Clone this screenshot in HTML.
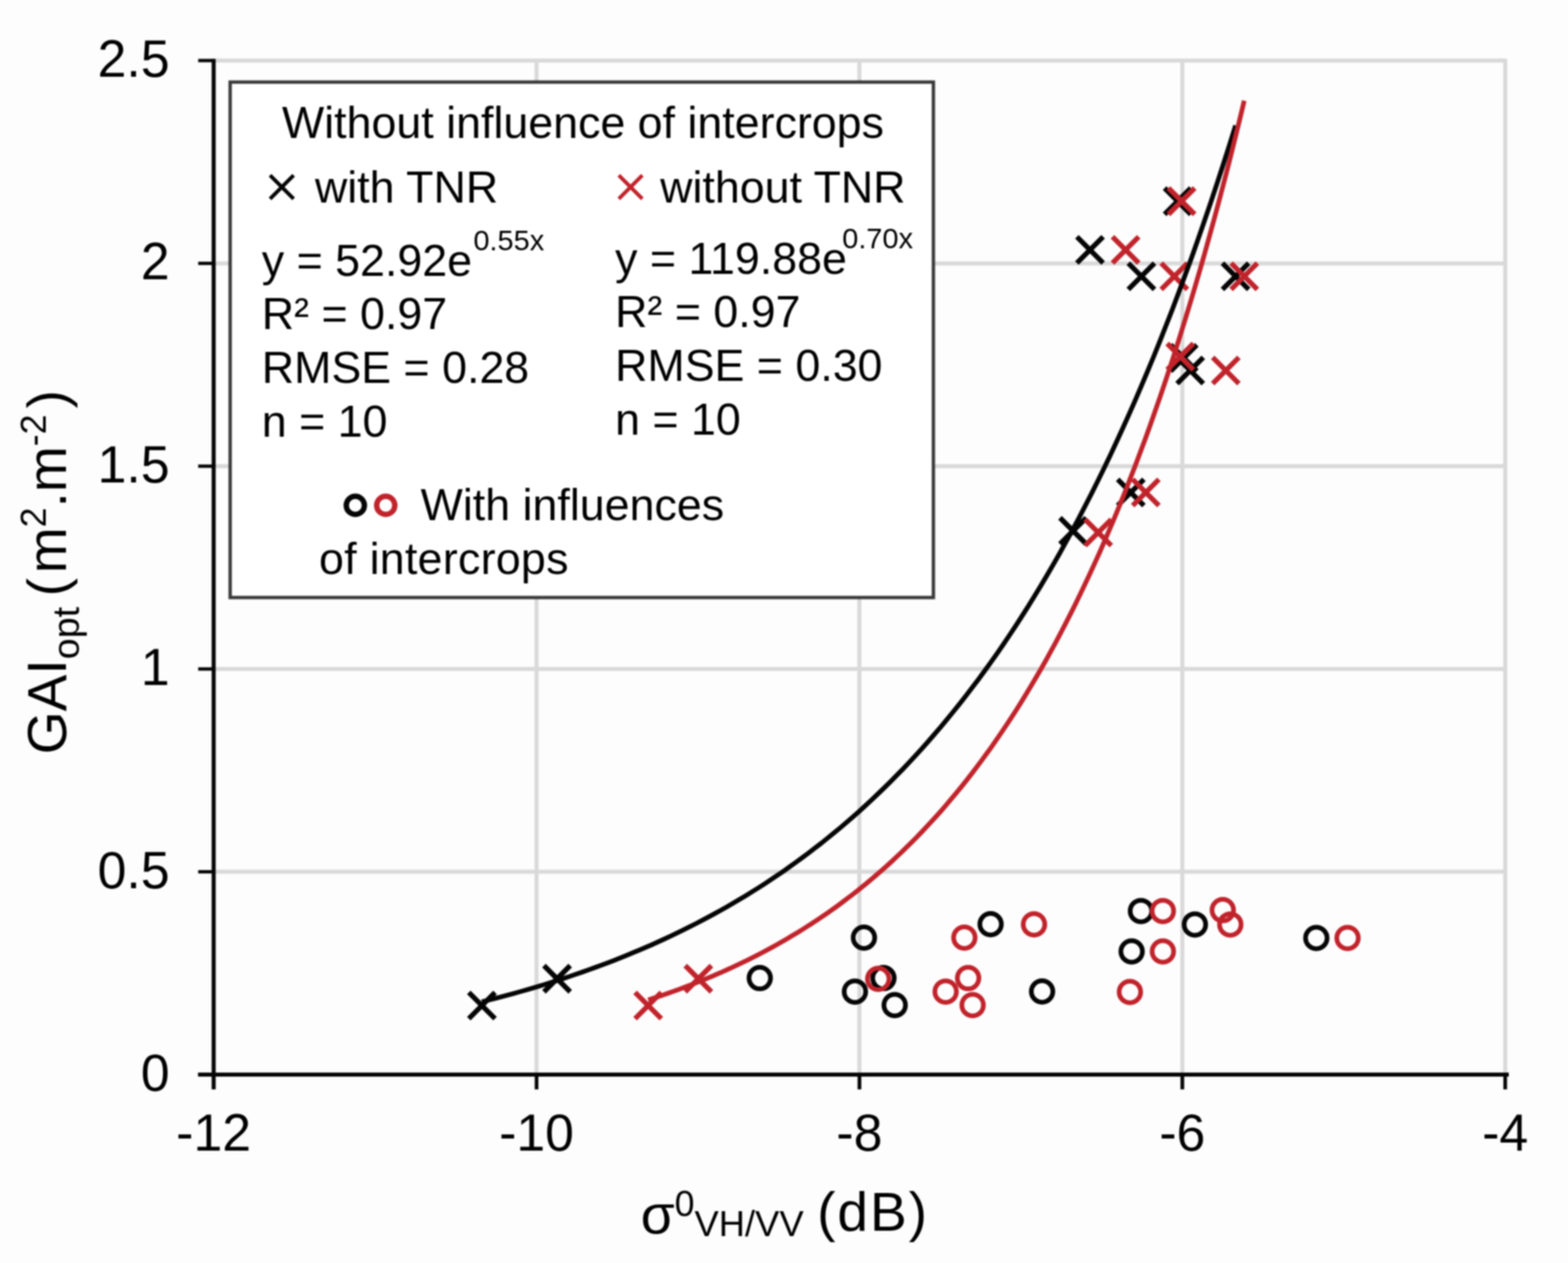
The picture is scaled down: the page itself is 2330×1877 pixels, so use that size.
<!DOCTYPE html>
<html><head><meta charset="utf-8"><title>GAI vs sigma0</title>
<style>html,body{margin:0;padding:0;background:#fdfdfd;} svg{display:block;filter:blur(1px);}</style>
</head><body>
<svg width="2330" height="1877" viewBox="0 0 2330 1877" font-family="'Liberation Sans', Arial, Helvetica, sans-serif" fill="#000">
<line x1="797.3" y1="90.0" x2="797.3" y2="1597.0" stroke="#d9d9d9" stroke-width="6"/>
<line x1="1277.1" y1="90.0" x2="1277.1" y2="1597.0" stroke="#d9d9d9" stroke-width="6"/>
<line x1="1756.9" y1="90.0" x2="1756.9" y2="1597.0" stroke="#d9d9d9" stroke-width="6"/>
<line x1="2236.7" y1="90.0" x2="2236.7" y2="1597.0" stroke="#d9d9d9" stroke-width="6"/>
<line x1="317.5" y1="1295.6" x2="2239.2" y2="1295.6" stroke="#d9d9d9" stroke-width="6"/>
<line x1="317.5" y1="994.2" x2="2239.2" y2="994.2" stroke="#d9d9d9" stroke-width="6"/>
<line x1="317.5" y1="692.8" x2="2239.2" y2="692.8" stroke="#d9d9d9" stroke-width="6"/>
<line x1="317.5" y1="391.4" x2="2239.2" y2="391.4" stroke="#d9d9d9" stroke-width="6"/>
<line x1="317.5" y1="90.0" x2="2239.2" y2="90.0" stroke="#d9d9d9" stroke-width="6"/>
<line x1="317.5" y1="87.5" x2="317.5" y2="1619" stroke="#050505" stroke-width="6"/>
<line x1="294.5" y1="1597.0" x2="2242" y2="1597.0" stroke="#050505" stroke-width="6"/>
<line x1="294.5" y1="1597.0" x2="317.5" y2="1597.0" stroke="#050505" stroke-width="5"/>
<line x1="294.5" y1="1295.6" x2="317.5" y2="1295.6" stroke="#050505" stroke-width="5"/>
<line x1="294.5" y1="994.2" x2="317.5" y2="994.2" stroke="#050505" stroke-width="5"/>
<line x1="294.5" y1="692.8" x2="317.5" y2="692.8" stroke="#050505" stroke-width="5"/>
<line x1="294.5" y1="391.4" x2="317.5" y2="391.4" stroke="#050505" stroke-width="5"/>
<line x1="294.5" y1="90.0" x2="317.5" y2="90.0" stroke="#050505" stroke-width="5"/>
<line x1="797.3" y1="1597.0" x2="797.3" y2="1619" stroke="#050505" stroke-width="5.5"/>
<line x1="1277.1" y1="1597.0" x2="1277.1" y2="1619" stroke="#050505" stroke-width="5.5"/>
<line x1="1756.9" y1="1597.0" x2="1756.9" y2="1619" stroke="#050505" stroke-width="5.5"/>
<line x1="2236.7" y1="1597.0" x2="2236.7" y2="1619" stroke="#050505" stroke-width="5.5"/>
<text x="252" y="1621.0" text-anchor="end" font-size="77">0</text>
<text x="252" y="1319.6" text-anchor="end" font-size="77">0.5</text>
<text x="252" y="1018.2" text-anchor="end" font-size="77">1</text>
<text x="252" y="716.8" text-anchor="end" font-size="77">1.5</text>
<text x="252" y="415.4" text-anchor="end" font-size="77">2</text>
<text x="252" y="114.0" text-anchor="end" font-size="77">2.5</text>
<text x="317.5" y="1709.5" text-anchor="middle" font-size="77">-12</text>
<text x="797.3" y="1709.5" text-anchor="middle" font-size="77">-10</text>
<text x="1277.1" y="1709.5" text-anchor="middle" font-size="77">-8</text>
<text x="1756.9" y="1709.5" text-anchor="middle" font-size="77">-6</text>
<text x="2236.7" y="1709.5" text-anchor="middle" font-size="77">-4</text>
<text x="952" y="1833" font-size="82">σ<tspan font-size="53" dy="-26">0</tspan><tspan font-size="54" dy="30">VH/VV </tspan><tspan dx="5" dy="-8.5" letter-spacing="2.8">(dB)</tspan></text>
<text transform="translate(97.5,1121) rotate(-90)" font-size="82">GAI<tspan font-size="56" dy="19">opt </tspan><tspan dy="-19">(</tspan><tspan dx="7">m</tspan><tspan font-size="53" dy="-30">2</tspan><tspan dy="30">.m</tspan><tspan font-size="53" dy="-30">-2</tspan><tspan dx="9" dy="30">)</tspan></text>
<circle cx="1129.0" cy="1453.6" r="16" stroke="#050505" stroke-width="7" fill="none"/>
<circle cx="1283.8" cy="1393.5" r="16" stroke="#050505" stroke-width="7" fill="none"/>
<circle cx="1270.4" cy="1473.7" r="16" stroke="#050505" stroke-width="7" fill="none"/>
<circle cx="1312.8" cy="1453.6" r="16" stroke="#050505" stroke-width="7" fill="none"/>
<circle cx="1329.5" cy="1493.7" r="16" stroke="#050505" stroke-width="7" fill="none"/>
<circle cx="1472.0" cy="1373.5" r="16" stroke="#050505" stroke-width="7" fill="none"/>
<circle cx="1548.5" cy="1473.5" r="16" stroke="#050505" stroke-width="7" fill="none"/>
<circle cx="1695.4" cy="1353.9" r="16" stroke="#050505" stroke-width="7" fill="none"/>
<circle cx="1681.6" cy="1414.0" r="16" stroke="#050505" stroke-width="7" fill="none"/>
<circle cx="1775.6" cy="1373.9" r="16" stroke="#050505" stroke-width="7" fill="none"/>
<circle cx="1956.0" cy="1394.0" r="16" stroke="#050505" stroke-width="7" fill="none"/>
<circle cx="1305.0" cy="1454.8" r="16" stroke="#c1232b" stroke-width="7" fill="none"/>
<circle cx="1433.0" cy="1393.5" r="16" stroke="#c1232b" stroke-width="7" fill="none"/>
<circle cx="1536.5" cy="1373.7" r="16" stroke="#c1232b" stroke-width="7" fill="none"/>
<circle cx="1438.6" cy="1453.6" r="16" stroke="#c1232b" stroke-width="7" fill="none"/>
<circle cx="1405.2" cy="1473.7" r="16" stroke="#c1232b" stroke-width="7" fill="none"/>
<circle cx="1445.3" cy="1493.7" r="16" stroke="#c1232b" stroke-width="7" fill="none"/>
<circle cx="1728.0" cy="1353.9" r="16" stroke="#c1232b" stroke-width="7" fill="none"/>
<circle cx="1728.0" cy="1414.0" r="16" stroke="#c1232b" stroke-width="7" fill="none"/>
<circle cx="1679.0" cy="1474.2" r="16" stroke="#c1232b" stroke-width="7" fill="none"/>
<circle cx="1817.0" cy="1352.6" r="16" stroke="#c1232b" stroke-width="7" fill="none"/>
<circle cx="1828.2" cy="1373.9" r="16" stroke="#c1232b" stroke-width="7" fill="none"/>
<circle cx="2002.4" cy="1394.0" r="16" stroke="#c1232b" stroke-width="7" fill="none"/>
<path d="M696.6,1474.8L735.6,1513.8M696.6,1513.8L735.6,1474.8" stroke="#050505" stroke-width="7.5" fill="none"/>
<path d="M808.3,1435.0L847.3,1474.0M808.3,1474.0L847.3,1435.0" stroke="#050505" stroke-width="7.5" fill="none"/>
<path d="M1575.1,769.5L1614.1,808.5M1575.1,808.5L1614.1,769.5" stroke="#050505" stroke-width="7.5" fill="none"/>
<path d="M1660.8,712.3L1699.8,751.3M1660.8,751.3L1699.8,712.3" stroke="#050505" stroke-width="7.5" fill="none"/>
<path d="M1600.2,351.9L1639.2,390.9M1600.2,390.9L1639.2,351.9" stroke="#050505" stroke-width="7.5" fill="none"/>
<path d="M1730.5,279.5L1769.5,318.5M1730.5,318.5L1769.5,279.5" stroke="#050505" stroke-width="7.5" fill="none"/>
<path d="M1676.6,391.1L1715.6,430.1M1676.6,430.1L1715.6,391.1" stroke="#050505" stroke-width="7.5" fill="none"/>
<path d="M1816.5,391.1L1855.5,430.1M1816.5,430.1L1855.5,391.1" stroke="#050505" stroke-width="7.5" fill="none"/>
<path d="M1749.1,531.1L1788.1,570.1M1749.1,570.1L1788.1,531.1" stroke="#050505" stroke-width="7.5" fill="none"/>
<path d="M1739.5,512.5L1778.5,551.5M1739.5,551.5L1778.5,512.5" stroke="#050505" stroke-width="7.5" fill="none"/>
<path d="M943.7,1474.8L982.7,1513.8M943.7,1513.8L982.7,1474.8" stroke="#c1232b" stroke-width="7.5" fill="none"/>
<path d="M1018.2,1435.0L1057.2,1474.0M1018.2,1474.0L1057.2,1435.0" stroke="#c1232b" stroke-width="7.5" fill="none"/>
<path d="M1612.4,771.9L1651.4,810.9M1612.4,810.9L1651.4,771.9" stroke="#c1232b" stroke-width="7.5" fill="none"/>
<path d="M1683.1,712.3L1722.1,751.3M1683.1,751.3L1722.1,712.3" stroke="#c1232b" stroke-width="7.5" fill="none"/>
<path d="M1653.1,351.9L1692.1,390.9M1653.1,390.9L1692.1,351.9" stroke="#c1232b" stroke-width="7.5" fill="none"/>
<path d="M1736.3,279.5L1775.3,318.5M1736.3,318.5L1775.3,279.5" stroke="#c1232b" stroke-width="7.5" fill="none"/>
<path d="M1725.5,391.1L1764.5,430.1M1725.5,430.1L1764.5,391.1" stroke="#c1232b" stroke-width="7.5" fill="none"/>
<path d="M1829.4,391.1L1868.4,430.1M1829.4,430.1L1868.4,391.1" stroke="#c1232b" stroke-width="7.5" fill="none"/>
<path d="M1734.4,510.5L1773.4,549.5M1734.4,549.5L1773.4,510.5" stroke="#c1232b" stroke-width="7.5" fill="none"/>
<path d="M1802.0,531.1L1841.0,570.1M1802.0,570.1L1841.0,531.1" stroke="#c1232b" stroke-width="7.5" fill="none"/>
<polyline points="716.1,1488.8 725.4,1486.4 734.8,1484.0 744.1,1481.6 753.4,1479.1 762.8,1476.6 772.1,1474.0 781.4,1471.3 790.8,1468.6 800.1,1465.8 809.4,1463.0 818.8,1460.1 828.1,1457.1 837.4,1454.1 846.8,1451.0 856.1,1447.8 865.4,1444.6 874.8,1441.3 884.1,1437.9 893.4,1434.5 902.8,1431.0 912.1,1427.4 921.4,1423.7 930.7,1420.0 940.1,1416.1 949.4,1412.2 958.7,1408.2 968.1,1404.2 977.4,1400.0 986.7,1395.7 996.1,1391.4 1005.4,1386.9 1014.7,1382.4 1024.1,1377.7 1033.4,1373.0 1042.7,1368.2 1052.1,1363.2 1061.4,1358.1 1070.7,1353.0 1080.1,1347.7 1089.4,1342.3 1098.7,1336.8 1108.1,1331.2 1117.4,1325.4 1126.7,1319.6 1136.1,1313.6 1145.4,1307.4 1154.7,1301.2 1164.1,1294.8 1173.4,1288.2 1182.7,1281.5 1192.1,1274.7 1201.4,1267.8 1210.7,1260.6 1220.1,1253.4 1229.4,1245.9 1238.7,1238.3 1248.1,1230.6 1257.4,1222.7 1266.7,1214.6 1276.1,1206.3 1285.4,1197.8 1294.7,1189.2 1304.0,1180.4 1313.4,1171.4 1322.7,1162.2 1332.0,1152.8 1341.4,1143.2 1350.7,1133.4 1360.0,1123.3 1369.4,1113.1 1378.7,1102.6 1388.0,1091.9 1397.4,1081.0 1406.7,1069.8 1416.0,1058.4 1425.4,1046.8 1434.7,1034.9 1444.0,1022.7 1453.4,1010.3 1462.7,997.6 1472.0,984.7 1481.4,971.4 1490.7,957.9 1500.0,944.1 1509.4,930.0 1518.7,915.5 1528.0,900.8 1537.4,885.7 1546.7,870.4 1556.0,854.6 1565.4,838.6 1574.7,822.2 1584.0,805.4 1593.4,788.3 1602.7,770.8 1612.0,752.9 1621.4,734.7 1630.7,716.0 1640.0,697.0 1649.4,677.5 1658.7,657.6 1668.0,637.3 1677.3,616.6 1686.7,595.4 1696.0,573.7 1705.3,551.6 1714.7,529.0 1724.0,505.9 1733.3,482.3 1742.7,458.2 1752.0,433.5 1761.3,408.4 1770.7,382.7 1780.0,356.4 1789.3,329.6 1798.7,302.2 1808.0,274.2 1817.3,245.6 1826.7,216.3 1836.0,186.5" stroke="#050505" stroke-width="7" fill="none" stroke-linejoin="round"/>
<polyline points="963.2,1486.1 970.6,1483.7 978.0,1481.2 985.3,1478.7 992.7,1476.1 1000.1,1473.5 1007.5,1470.9 1014.9,1468.1 1022.2,1465.3 1029.6,1462.5 1037.0,1459.6 1044.4,1456.6 1051.8,1453.6 1059.2,1450.5 1066.5,1447.3 1073.9,1444.1 1081.3,1440.7 1088.7,1437.4 1096.1,1433.9 1103.4,1430.4 1110.8,1426.8 1118.2,1423.1 1125.6,1419.3 1133.0,1415.5 1140.3,1411.6 1147.7,1407.6 1155.1,1403.5 1162.5,1399.3 1169.9,1395.0 1177.2,1390.6 1184.6,1386.2 1192.0,1381.6 1199.4,1376.9 1206.8,1372.2 1214.1,1367.3 1221.5,1362.3 1228.9,1357.3 1236.3,1352.1 1243.7,1346.8 1251.1,1341.4 1258.4,1335.8 1265.8,1330.2 1273.2,1324.4 1280.6,1318.5 1288.0,1312.5 1295.3,1306.3 1302.7,1300.0 1310.1,1293.6 1317.5,1287.1 1324.9,1280.3 1332.2,1273.5 1339.6,1266.5 1347.0,1259.3 1354.4,1252.0 1361.8,1244.6 1369.1,1237.0 1376.5,1229.2 1383.9,1221.2 1391.3,1213.1 1398.7,1204.8 1406.1,1196.3 1413.4,1187.6 1420.8,1178.8 1428.2,1169.7 1435.6,1160.5 1443.0,1151.0 1450.3,1141.4 1457.7,1131.5 1465.1,1121.4 1472.5,1111.2 1479.9,1100.6 1487.2,1089.9 1494.6,1078.9 1502.0,1067.7 1509.4,1056.3 1516.8,1044.6 1524.1,1032.6 1531.5,1020.4 1538.9,1007.9 1546.3,995.2 1553.7,982.2 1561.0,968.9 1568.4,955.3 1575.8,941.4 1583.2,927.2 1590.6,912.7 1598.0,897.9 1605.3,882.8 1612.7,867.3 1620.1,851.6 1627.5,835.4 1634.9,819.0 1642.2,802.1 1649.6,784.9 1657.0,767.4 1664.4,749.4 1671.8,731.1 1679.1,712.3 1686.5,693.2 1693.9,673.6 1701.3,653.7 1708.7,633.3 1716.0,612.4 1723.4,591.1 1730.8,569.3 1738.2,547.1 1745.6,524.4 1752.9,501.2 1760.3,477.5 1767.7,453.3 1775.1,428.5 1782.5,403.2 1789.9,377.4 1797.2,351.0 1804.6,324.1 1812.0,296.5 1819.4,268.4 1826.8,239.7 1834.1,210.3 1841.5,180.3 1848.9,149.6" stroke="#c1232b" stroke-width="7" fill="none" stroke-linejoin="round"/>
<rect x="342" y="122" width="1045" height="766" fill="#fff" stroke="#3a3a3a" stroke-width="5"/>
<text x="419" y="204.5" font-size="66.5">Without influence of intercrops</text>
<path d="M401.3,260.5L436.3,295.5M401.3,295.5L436.3,260.5" stroke="#050505" stroke-width="5.5" fill="none"/>
<path d="M919.5,260.5L954.5,295.5M919.5,295.5L954.5,260.5" stroke="#c1232b" stroke-width="5.5" fill="none"/>
<text x="468" y="300.5" font-size="66.5">with TNR</text>
<text x="981" y="300.5" font-size="66.5">without TNR</text>
<text x="389" y="410" font-size="66.5">y = 52.92e<tspan font-size="43" dx="2" dy="-38">0.55x</tspan></text>
<text x="389" y="489" font-size="66.5">R² = 0.97</text>
<text x="389" y="569" font-size="66.5">RMSE = 0.28</text>
<text x="389" y="649" font-size="66.5">n = 10</text>
<text x="914" y="406.5" font-size="66.5">y = 119.88e<tspan font-size="43" dx="-7" dy="-38">0.70x</tspan></text>
<text x="914" y="485.5" font-size="66.5">R² = 0.97</text>
<text x="914" y="565.5" font-size="66.5">RMSE = 0.30</text>
<text x="914" y="645.5" font-size="66.5">n = 10</text>
<circle cx="528.0" cy="751.0" r="13.5" stroke="#050505" stroke-width="8" fill="none"/>
<circle cx="573.2" cy="751.0" r="13.5" stroke="#c1232b" stroke-width="8" fill="none"/>
<text x="625" y="773" font-size="66.5">With influences</text>
<text x="474" y="852.5" font-size="66.5" letter-spacing="0.4">of intercrops</text>
</svg>
</body></html>
